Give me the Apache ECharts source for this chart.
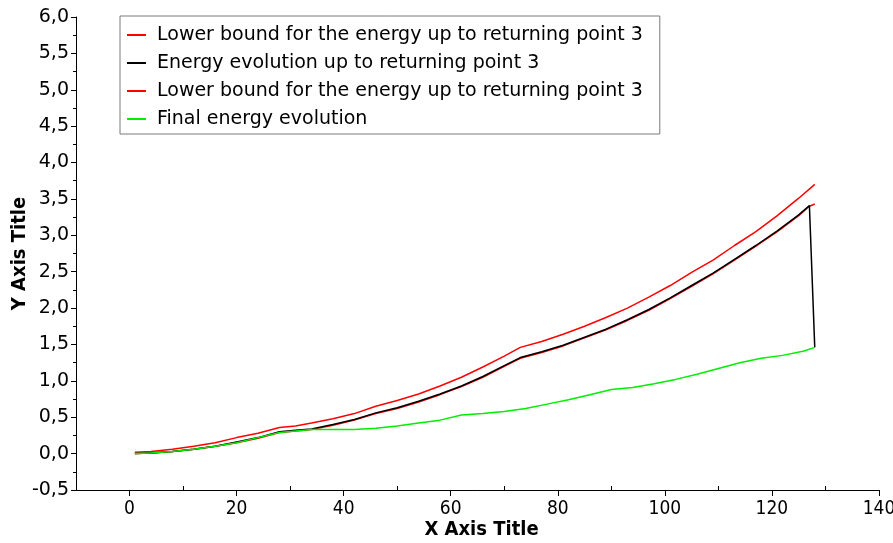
<!DOCTYPE html>
<html>
<head>
<meta charset="utf-8">
<script src="https://cdn.jsdelivr.net/npm/echarts@6/dist/echarts.min.js"></script>
<style>
  html, body { margin: 0; padding: 0; background: #fff; }
  #chart { width: 893px; height: 543px; }
</style>
</head>
<body>
<div id="chart"></div>
<script>
// series names (the two lower bounds share a label, trailing space keeps them apart)
const nameUpper = 'Lower bound for the energy up to returning point 3';
const nameEnergy = 'Energy evolution up to returning point 3';
const nameLower = 'Lower bound for the energy up to returning point 3 ';
const nameFinal = 'Final energy evolution';

const xTicks = [0, 20, 40, 60, 80, 100, 120, 140];
const xMinorTicks = [10, 30, 50, 70, 90, 110, 130];

// upper red curve
const upperX = [1, 4, 8, 12, 16, 20, 24, 28, 31, 34, 38, 42, 46, 50, 54, 58, 62, 66, 70, 73, 77, 81, 85, 89, 93, 97, 101, 105, 109, 113, 117, 121, 125, 128];
const upperY = [0.02, 0.03, 0.06, 0.10, 0.15, 0.22, 0.28, 0.36, 0.38, 0.42, 0.48, 0.55, 0.65, 0.73, 0.82, 0.93, 1.05, 1.19, 1.34, 1.46, 1.54, 1.64, 1.75, 1.87, 2.00, 2.15, 2.31, 2.49, 2.66, 2.86, 3.05, 3.27, 3.51, 3.70];

// black curve (ends with the drop to the final energy)
const energyX = [1, 4, 8, 12, 16, 20, 24, 28, 31, 34, 38, 42, 46, 50, 54, 58, 62, 66, 70, 73, 77, 81, 85, 89, 93, 97, 101, 105, 109, 113, 117, 121, 125, 127, 128];
const energyY = [0.00, 0.01, 0.03, 0.06, 0.10, 0.16, 0.22, 0.30, 0.32, 0.34, 0.40, 0.47, 0.56, 0.63, 0.72, 0.82, 0.93, 1.06, 1.21, 1.32, 1.40, 1.49, 1.60, 1.71, 1.84, 1.98, 2.14, 2.31, 2.48, 2.67, 2.86, 3.06, 3.28, 3.41, 1.46];

// second red curve, just under the black one
const lowerX = [1, 4, 8, 12, 16, 20, 24, 28, 31, 34, 38, 42, 46, 50, 54, 58, 62, 66, 70, 73, 77, 81, 85, 89, 93, 97, 101, 105, 109, 113, 117, 121, 125, 127, 128];
const lowerY = [0.00, 0.01, 0.03, 0.06, 0.10, 0.15, 0.21, 0.29, 0.31, 0.33, 0.39, 0.46, 0.55, 0.62, 0.71, 0.81, 0.92, 1.05, 1.20, 1.31, 1.39, 1.48, 1.59, 1.70, 1.83, 1.97, 2.13, 2.30, 2.47, 2.66, 2.85, 3.05, 3.27, 3.40, 3.43];

// green curve
const finalX = [1, 4, 8, 12, 16, 20, 24, 28, 31, 34, 38, 42, 46, 50, 54, 58, 62, 66, 70, 74, 78, 82, 86, 90, 94, 98, 102, 106, 110, 114, 118, 122, 126, 128];
const finalY = [0.00, 0.01, 0.03, 0.06, 0.10, 0.15, 0.22, 0.29, 0.31, 0.33, 0.33, 0.33, 0.35, 0.38, 0.42, 0.46, 0.53, 0.55, 0.58, 0.62, 0.68, 0.74, 0.81, 0.88, 0.91, 0.96, 1.02, 1.09, 1.17, 1.25, 1.31, 1.35, 1.41, 1.46];

function pairs(xs, ys) {
    return xs.map(function (x, i) { return [x, ys[i]]; });
}

const chart = echarts.init(document.getElementById('chart'));
const font = 'DejaVu Sans, Verdana, sans-serif';
const condensed = 'DejaVu Sans Condensed, DejaVu Sans, sans-serif';

const option = {
    animation: false,
    backgroundColor: '#fff',
    grid: { left: 76, right: 14, top: 17, bottom: 53, containLabel: false, outerBoundsMode: 'none' },
    legend: {
        orient: 'vertical',
        left: 120,
        top: 16,
        padding: [8, 17, 4, 7],
        itemGap: 6,
        itemWidth: 19,
        itemHeight: 2,
        icon: 'rect',
        borderColor: '#7a7a7a',
        borderWidth: 1,
        backgroundColor: '#fff',
        data: [nameUpper, nameEnergy, nameLower, nameFinal],
        formatter: function (n) { return n.trim(); },
        textStyle: { fontFamily: font, fontSize: 19, color: '#000', lineHeight: 22, padding: [0, 0, 0, 6] }
    },
    xAxis: [{
        type: 'value',
        min: -10, max: 140, interval: 20,
        name: 'X Axis Title',
        nameLocation: 'middle',
        nameGap: 30,
        nameMoveOverlap: false,
        nameTextStyle: { fontFamily: condensed, fontSize: 20, fontWeight: 'bold', color: '#000', padding: [0, 0, 0, 8] },
        axisLine: { onZero: false, lineStyle: { color: '#000', width: 1 } },
        axisTick: { show: true, length: 6, lineStyle: { color: '#000' }, customValues: xTicks },
        axisLabel: { fontFamily: condensed, fontSize: 19, color: '#000', margin: 10, customValues: xTicks },
        splitLine: { show: false }
    }, {
        // minor ticks every 10, pointing inward
        type: 'value',
        position: 'bottom',
        min: -10, max: 140,
        axisLine: { show: true, onZero: false, lineStyle: { color: '#000', width: 1 } },
        axisTick: { show: true, inside: true, length: 4, lineStyle: { color: '#000' }, customValues: xMinorTicks },
        axisLabel: { show: false },
        splitLine: { show: false }
    }],
    yAxis: {
        type: 'value',
        min: -0.5, max: 6.0, interval: 0.5,
        name: 'Y Axis Title',
        nameLocation: 'middle',
        nameGap: 46,
        nameMoveOverlap: false,
        nameTextStyle: { fontFamily: condensed, fontSize: 20, fontWeight: 'bold', color: '#000' },
        axisLine: { show: true, onZero: false, lineStyle: { color: '#000', width: 1 } },
        axisTick: { show: true, length: 5, lineStyle: { color: '#000' } },
        minorTick: { show: true, splitNumber: 2, length: 3, lineStyle: { color: '#000' } },
        axisLabel: {
            fontFamily: font, fontSize: 19, color: '#000', margin: 7,
            formatter: function (v) { return v.toFixed(1).replace('.', ','); }
        },
        splitLine: { show: false }
    },
    series: [
        { name: nameUpper, type: 'line', data: pairs(upperX, upperY), showSymbol: false, color: '#ff0000', lineStyle: { width: 1.5 }, z: 2 },
        { name: nameEnergy, type: 'line', data: pairs(energyX, energyY), showSymbol: false, color: '#000000', lineStyle: { width: 1.5 }, z: 4 },
        { name: nameLower, type: 'line', data: pairs(lowerX, lowerY), showSymbol: false, color: '#ff0000', lineStyle: { width: 1.5 }, z: 3 },
        { name: nameFinal, type: 'line', data: pairs(finalX, finalY), showSymbol: false, color: '#00ee00', lineStyle: { width: 1.5 }, z: 5 }
    ]
};

chart.setOption(option);
</script>
</body>
</html>
